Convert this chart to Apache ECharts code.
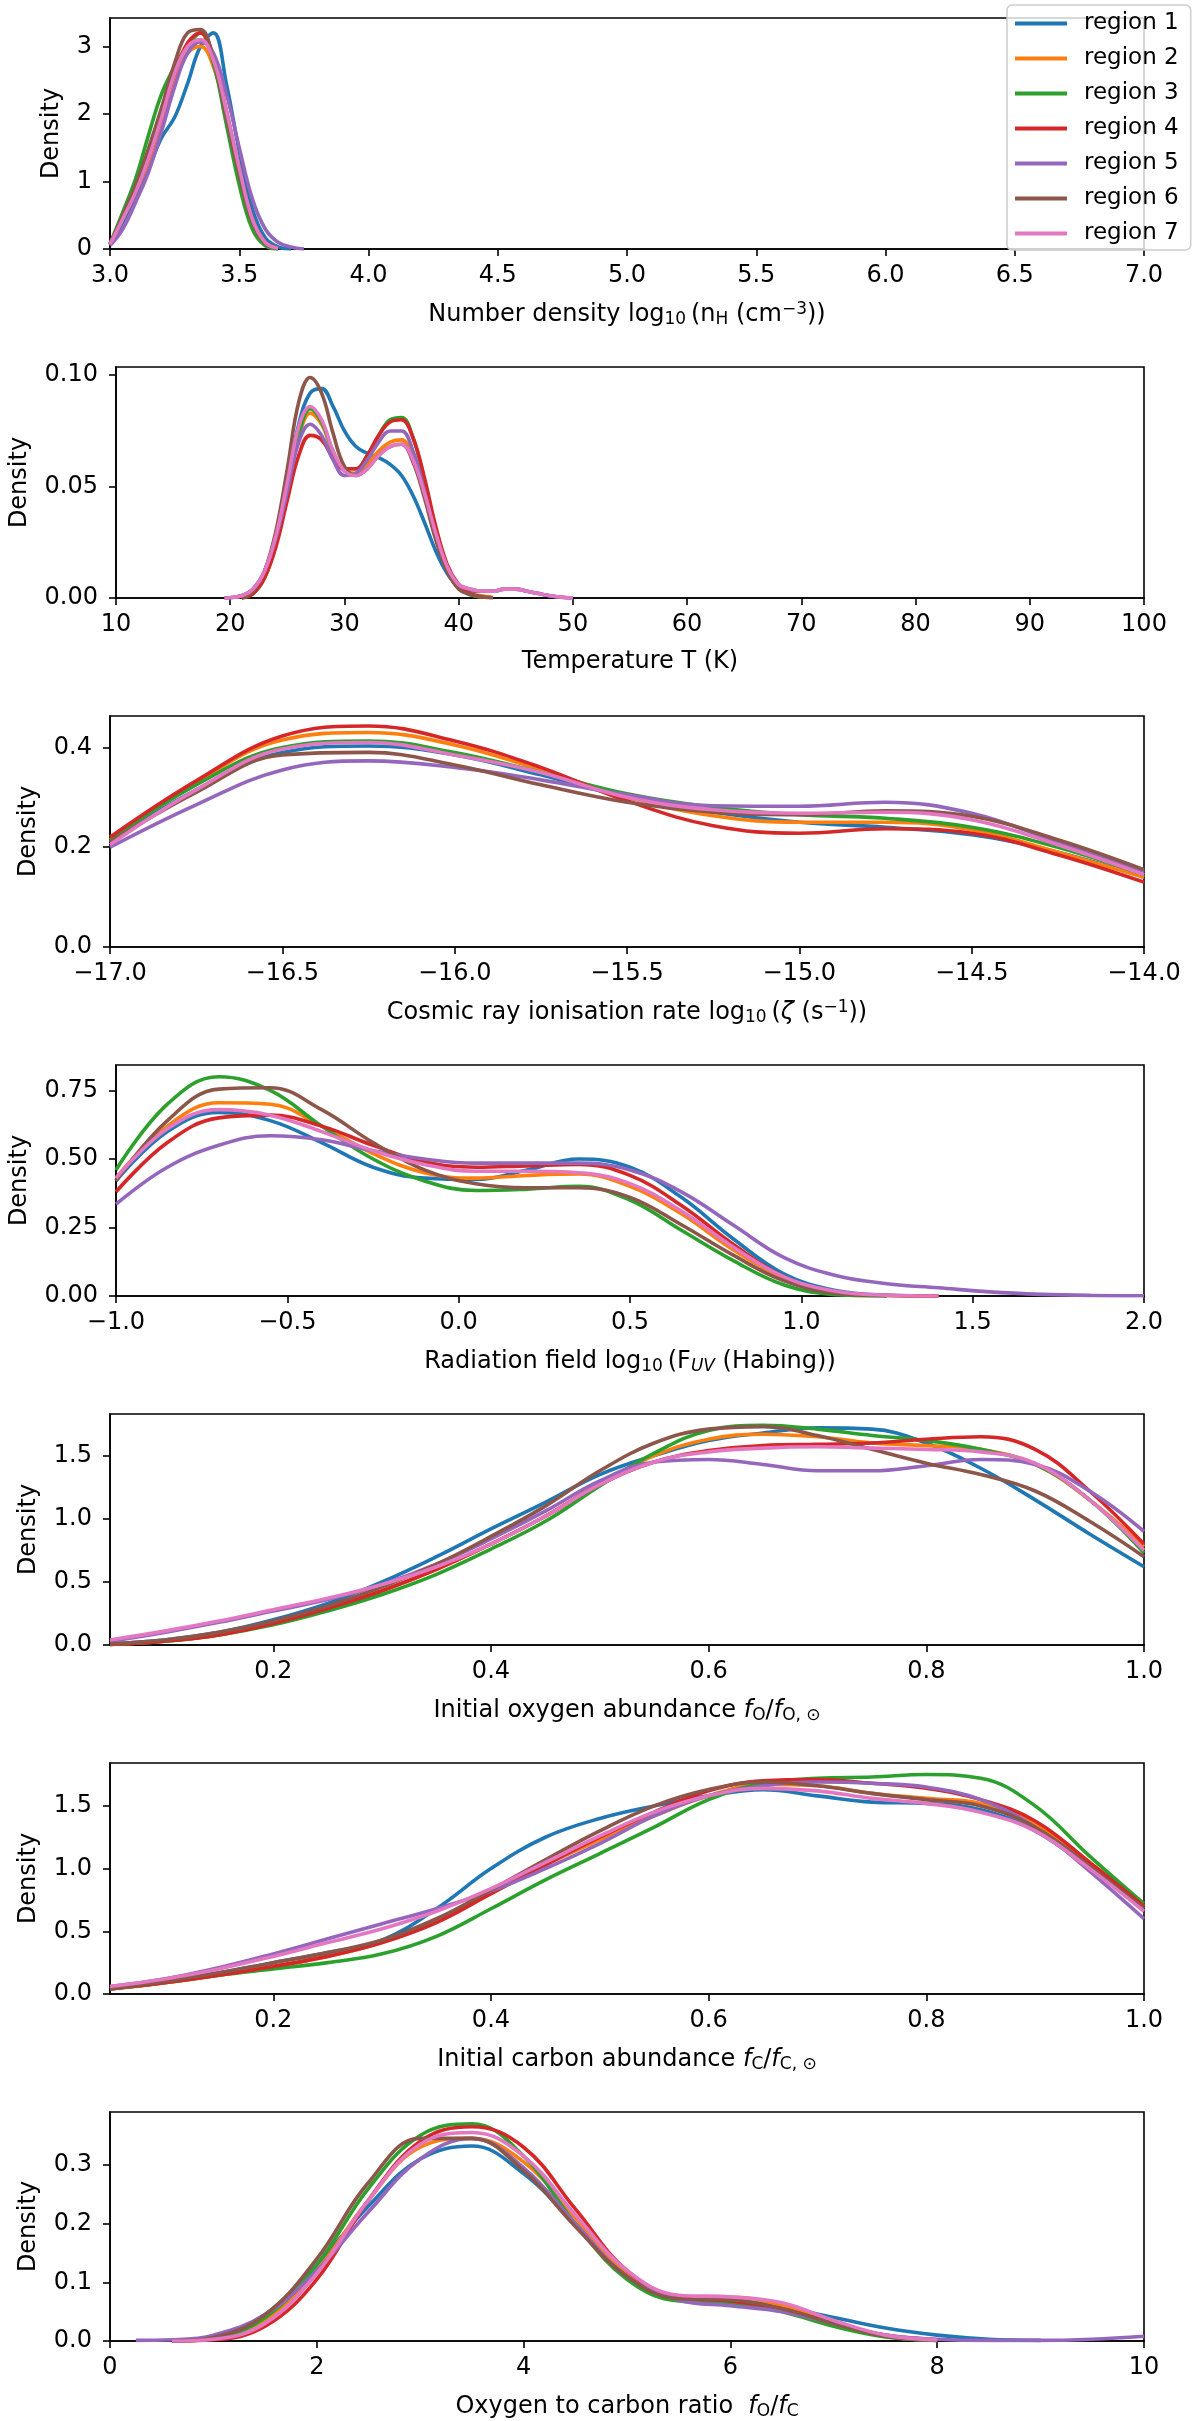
<!DOCTYPE html>
<html><head><meta charset="utf-8">
<script src="https://cdn.jsdelivr.net/npm/echarts@6/dist/echarts.min.js"></script>
<style>html,body{margin:0;padding:0;background:#fff}#c{width:1200px;height:2421px}</style>
</head><body><div id="c"></div>
<script>
const NAMES = ['region 1','region 2','region 3','region 4','region 5','region 6','region 7'];
const COLORS = ['#1f77b4','#ff7f0e','#2ca02c','#d62728','#9467bd','#8c564b','#e377c2'];

// Panel 1: number density
const nH_x = [3.0,3.05,3.1,3.15,3.2,3.25,3.3,3.35,3.4,3.45,3.5,3.55,3.6,3.65,3.7,3.75];
const nH_y = [
 [0.06,0.4,0.8,1.2,1.65,1.95,2.45,3.0,3.2,2.45,1.45,0.6,0.17,0.03,0,null],
 [0.07,0.45,0.85,1.3,1.9,2.5,2.9,3.0,2.7,2.0,1.15,0.45,0.1,0.01,null,null],
 [0.08,0.55,1.05,1.7,2.3,2.7,3.0,3.2,2.75,1.85,0.95,0.3,0.05,0,null,null],
 [0.07,0.45,0.85,1.35,1.95,2.6,3.05,3.2,2.85,2.05,1.2,0.45,0.1,0.01,null,null],
 [0.05,0.3,0.7,1.15,1.75,2.4,2.9,3.07,2.9,2.3,1.5,0.75,0.3,0.1,0.03,0],
 [0.07,0.5,0.95,1.5,2.1,2.75,3.2,3.25,2.8,1.95,1.1,0.4,0.08,0.01,null,null],
 [0.07,0.45,0.85,1.35,1.95,2.6,3.0,3.1,2.8,2.05,1.2,0.45,0.1,0.01,null,null]
];
const nH_xticks = [3.0,3.5,4.0,4.5,5.0,5.5,6.0,6.5,7.0];
const nH_xlabels = ['3.0','3.5','4.0','4.5','5.0','5.5','6.0','6.5','7.0'];
const nH_yticks = [0,1,2,3];
const nH_ylabels = ['0','1','2','3'];

// Panel 2: temperature
const T_x = [19.5,21,22,23,24,25,26,27,28,29,30,31,32,33,34,35,36,37,38,39,40,41,42,43,44,45,46,47,48,49,50];
const T_y = [
 [0,0.001,0.004,0.012,0.028,0.052,0.078,0.092,0.094,0.086,0.075,0.068,0.065,0.063,0.060,0.055,0.046,0.034,0.021,0.011,0.005,0.003,0.003,0.003,0.004,0.004,0.003,0.002,0.001,0.0003,0],
 [null,0.001,0.003,0.010,0.025,0.048,0.072,0.083,0.078,0.065,0.057,0.056,0.060,0.066,0.070,0.071,0.063,0.047,0.028,0.013,0.005,0.002,0.001,0.0003,null,null,null,null,null,null,null],
 [null,0,0.002,0.009,0.024,0.048,0.073,0.085,0.079,0.066,0.058,0.058,0.064,0.073,0.080,0.081,0.072,0.053,0.031,0.014,0.005,0.0015,0.0003,null,null,null,null,null,null,null,null],
 [null,0,0.002,0.009,0.023,0.044,0.064,0.073,0.071,0.063,0.058,0.058,0.064,0.073,0.079,0.080,0.072,0.054,0.032,0.015,0.006,0.002,0.0005,null,null,null,null,null,null,null,null],
 [0,0.001,0.004,0.012,0.027,0.048,0.070,0.078,0.073,0.062,0.055,0.056,0.062,0.070,0.075,0.075,0.066,0.048,0.028,0.013,0.006,0.004,0.003,0.003,0.004,0.004,0.003,0.002,0.001,0.0003,0],
 [null,0,0.003,0.012,0.030,0.058,0.088,0.099,0.092,0.074,0.059,0.055,0.058,0.064,0.068,0.069,0.061,0.045,0.026,0.012,0.004,0.0015,0.0005,0,null,null,null,null,null,null,null],
 [0,0.001,0.004,0.012,0.028,0.052,0.077,0.086,0.080,0.066,0.057,0.055,0.058,0.064,0.068,0.069,0.062,0.047,0.029,0.014,0.006,0.004,0.003,0.003,0.004,0.004,0.003,0.002,0.001,0.0004,0]
];
const T_xticks = [10,20,30,40,50,60,70,80,90,100];
const T_xlabels = ['10','20','30','40','50','60','70','80','90','100'];
const T_yticks = [0,0.05,0.10];
const T_ylabels = ['0.00','0.05','0.10'];

// Panel 3: cosmic ray ionisation rate
const CR_x = [-17,-16.75,-16.5,-16.25,-16,-15.75,-15.5,-15.25,-15,-14.75,-14.5,-14.25,-14];
const CR_y = [
 [0.21,0.315,0.39,0.403,0.385,0.345,0.30,0.27,0.25,0.24,0.225,0.19,0.14],
 [0.215,0.33,0.415,0.43,0.405,0.355,0.30,0.263,0.25,0.25,0.235,0.19,0.14],
 [0.215,0.325,0.40,0.413,0.39,0.35,0.307,0.28,0.265,0.258,0.24,0.20,0.145],
 [0.22,0.333,0.423,0.443,0.413,0.36,0.293,0.243,0.228,0.237,0.228,0.185,0.13],
 [0.20,0.285,0.355,0.373,0.36,0.335,0.305,0.283,0.282,0.29,0.268,0.21,0.15],
 [0.21,0.31,0.385,0.39,0.365,0.325,0.29,0.27,0.265,0.273,0.262,0.215,0.155],
 [0.205,0.315,0.397,0.41,0.385,0.35,0.30,0.275,0.268,0.27,0.255,0.205,0.145]
];
const CR_xticks = [-17,-16.5,-16,-15.5,-15,-14.5,-14];
const CR_xlabels = ['\u221217.0','\u221216.5','\u221216.0','\u221215.5','\u221215.0','\u221214.5','\u221214.0'];
const CR_yticks = [0,0.2,0.4];
const CR_ylabels = ['0.0','0.2','0.4'];

// Panel 4: radiation field
const UV_x = [-1,-0.85,-0.7,-0.55,-0.4,-0.25,-0.1,0.05,0.2,0.35,0.5,0.65,0.8,0.95,1.1,1.25,1.4,1.55,1.7,1.85,2.0];
const UV_y = [
 [0.42,0.60,0.67,0.64,0.56,0.47,0.43,0.425,0.46,0.50,0.47,0.36,0.21,0.08,0.02,0.003,0,null,null,null,null],
 [0.43,0.62,0.705,0.70,0.62,0.52,0.45,0.43,0.44,0.445,0.40,0.30,0.17,0.065,0.015,0.002,0,null,null,null,null],
 [0.46,0.70,0.80,0.75,0.62,0.50,0.42,0.385,0.39,0.40,0.35,0.24,0.13,0.04,0.005,0,null,null,null,null,null],
 [0.38,0.56,0.65,0.66,0.62,0.55,0.49,0.47,0.475,0.48,0.44,0.33,0.19,0.07,0.015,0.002,0,null,null,null,null],
 [0.335,0.47,0.55,0.585,0.57,0.53,0.50,0.485,0.485,0.485,0.46,0.38,0.26,0.14,0.075,0.045,0.03,0.015,0.006,0.002,0.001],
 [0.42,0.64,0.755,0.76,0.68,0.56,0.46,0.41,0.395,0.395,0.36,0.26,0.15,0.055,0.01,0.001,null,null,null,null,null],
 [0.43,0.61,0.68,0.66,0.60,0.53,0.48,0.455,0.455,0.45,0.41,0.31,0.18,0.07,0.017,0.003,0,null,null,null,null]
];
const UV_xticks = [-1,-0.5,0,0.5,1,1.5,2];
const UV_xlabels = ['\u22121.0','\u22120.5','0.0','0.5','1.0','1.5','2.0'];
const UV_yticks = [0,0.25,0.5,0.75];
const UV_ylabels = ['0.00','0.25','0.50','0.75'];

// Panel 5: initial oxygen abundance
const fO_x = [0.05,0.1,0.15,0.2,0.25,0.3,0.35,0.4,0.45,0.5,0.55,0.6,0.65,0.7,0.75,0.8,0.85,0.9,0.95,1.0];
const fO_y = [
 [0.01,0.04,0.10,0.20,0.33,0.50,0.70,0.92,1.13,1.35,1.50,1.62,1.68,1.72,1.71,1.60,1.40,1.15,0.88,0.62],
 [0.005,0.03,0.08,0.17,0.29,0.43,0.60,0.80,1.02,1.28,1.50,1.63,1.67,1.65,1.60,1.58,1.55,1.43,1.15,0.78],
 [0.005,0.03,0.08,0.16,0.27,0.40,0.56,0.76,0.98,1.26,1.52,1.70,1.74,1.71,1.66,1.62,1.55,1.43,1.15,0.73],
 [0.005,0.03,0.08,0.17,0.29,0.43,0.60,0.80,1.02,1.27,1.45,1.54,1.58,1.59,1.60,1.63,1.65,1.55,1.22,0.80],
 [0.03,0.10,0.18,0.27,0.36,0.48,0.64,0.84,1.06,1.30,1.45,1.47,1.43,1.38,1.38,1.42,1.47,1.43,1.22,0.90],
 [0.01,0.04,0.10,0.19,0.31,0.46,0.64,0.86,1.10,1.38,1.60,1.71,1.73,1.66,1.55,1.44,1.35,1.22,0.98,0.70],
 [0.04,0.11,0.19,0.28,0.37,0.48,0.62,0.80,1.02,1.27,1.45,1.53,1.56,1.57,1.56,1.55,1.53,1.44,1.15,0.75]
];
const fO_xticks = [0.2,0.4,0.6,0.8,1.0];
const fO_xlabels = ['0.2','0.4','0.6','0.8','1.0'];
const fO_yticks = [0,0.5,1.0,1.5];
const fO_ylabels = ['0.0','0.5','1.0','1.5'];

// Panel 6: initial carbon abundance
const fC_x = [0.05,0.1,0.15,0.2,0.25,0.3,0.35,0.4,0.45,0.5,0.55,0.6,0.65,0.7,0.75,0.8,0.85,0.9,0.95,1.0];
const fC_y = [
 [0.05,0.10,0.17,0.25,0.33,0.43,0.68,1.00,1.25,1.40,1.50,1.58,1.63,1.58,1.53,1.52,1.47,1.30,1.00,0.68],
 [0.04,0.09,0.15,0.22,0.30,0.41,0.58,0.80,1.03,1.23,1.42,1.58,1.67,1.66,1.60,1.56,1.52,1.35,1.05,0.70],
 [0.04,0.09,0.15,0.20,0.25,0.32,0.46,0.68,0.91,1.12,1.33,1.55,1.68,1.72,1.73,1.75,1.72,1.50,1.10,0.72],
 [0.04,0.09,0.15,0.22,0.30,0.41,0.57,0.80,1.03,1.25,1.45,1.62,1.70,1.71,1.68,1.64,1.55,1.38,1.05,0.70],
 [0.06,0.12,0.21,0.32,0.44,0.56,0.68,0.82,1.00,1.20,1.42,1.58,1.66,1.69,1.68,1.65,1.55,1.33,0.98,0.60],
 [0.04,0.10,0.17,0.25,0.33,0.43,0.60,0.83,1.07,1.30,1.50,1.63,1.69,1.66,1.60,1.55,1.50,1.33,1.02,0.68],
 [0.06,0.12,0.20,0.30,0.41,0.52,0.66,0.84,1.05,1.26,1.45,1.58,1.64,1.62,1.56,1.52,1.45,1.30,1.00,0.66]
];
const fC_xticks = [0.2,0.4,0.6,0.8,1.0];
const fC_xlabels = ['0.2','0.4','0.6','0.8','1.0'];
const fC_yticks = [0,0.5,1.0,1.5];
const fC_ylabels = ['0.0','0.5','1.0','1.5'];

// Panel 7: oxygen to carbon ratio
const OC_x = [0.25,0.6,1,1.5,2,2.5,3,3.5,4,4.5,5,5.5,6,6.5,7,7.5,8,8.5,9,9.5,10];
const OC_y = [
 [null,0,0.008,0.045,0.13,0.23,0.31,0.332,0.285,0.20,0.115,0.075,0.07,0.058,0.04,0.022,0.01,0.003,0.001,null,null],
 [null,0,0.004,0.035,0.12,0.24,0.33,0.345,0.305,0.21,0.115,0.075,0.075,0.06,0.03,0.008,0.001,null,null,null,null],
 [null,0,0.005,0.04,0.13,0.26,0.35,0.37,0.315,0.20,0.105,0.068,0.065,0.05,0.025,0.007,0.001,null,null,null,null],
 [null,0,0.002,0.025,0.105,0.24,0.34,0.365,0.33,0.225,0.12,0.075,0.068,0.055,0.03,0.01,0.002,null,null,null,null],
 [0.001,0.002,0.01,0.045,0.12,0.22,0.31,0.345,0.295,0.20,0.11,0.07,0.06,0.05,0.03,0.01,0.003,0.001,0.001,0.003,0.008],
 [null,0,0.006,0.045,0.14,0.27,0.345,0.345,0.29,0.195,0.11,0.072,0.07,0.055,0.03,0.008,0.001,null,null,null,null],
 [null,0,0.003,0.03,0.115,0.24,0.335,0.355,0.315,0.215,0.12,0.078,0.075,0.065,0.035,0.01,0.002,null,null,null,null]
];
const OC_xticks = [0,2,4,6,8,10];
const OC_xlabels = ['0','2','4','6','8','10'];
const OC_yticks = [0,0.1,0.2,0.3];
const OC_ylabels = ['0.0','0.1','0.2','0.3'];

const FONT = 'DejaVu Sans';
const FS = 24;
const rich = {
  sub: {fontSize: 17, fontFamily: FONT, color: '#000', padding: [10,0,0,0]},
  subi: {fontSize: 17, fontFamily: FONT, color: '#000', fontStyle: 'italic', padding: [10,0,0,0]},
  sup: {fontSize: 17, fontFamily: FONT, color: '#000', padding: [0,0,11,0]},
  it: {fontSize: FS, fontFamily: FONT, color: '#000', fontStyle: 'italic'}
};

const panels = [
  {x: nH_x, y: nH_y, xmin: 3, xmax: 7, ymax: 3.42, xt: nH_xticks, xl: nH_xlabels, yt: nH_yticks, yl: nH_ylabels,
   name: 'Number density log{sub|10}\u2009(n{sub|H} (cm{sup|\u22123}))', ygap: 46},
  {x: T_x, y: T_y, xmin: 10, xmax: 100, ymax: 0.1037, xt: T_xticks, xl: T_xlabels, yt: T_yticks, yl: T_ylabels,
   name: 'Temperature T (K)', ygap: 84},
  {x: CR_x, y: CR_y, xmin: -17, xmax: -14, ymax: 0.463, xt: CR_xticks, xl: CR_xlabels, yt: CR_yticks, yl: CR_ylabels,
   name: 'Cosmic ray ionisation rate log{sub|10}\u2009({it|\u03B6} (s{sup|\u22121}))', ygap: 69},
  {x: UV_x, y: UV_y, xmin: -1, xmax: 2, ymax: 0.843, xt: UV_xticks, xl: UV_xlabels, yt: UV_yticks, yl: UV_ylabels,
   name: 'Radiation field log{sub|10}\u2009(F{subi|UV} (Habing))', ygap: 84},
  {x: fO_x, y: fO_y, xmin: 0.05, xmax: 1.0, ymax: 1.83, xt: fO_xticks, xl: fO_xlabels, yt: fO_yticks, yl: fO_ylabels,
   name: 'Initial oxygen abundance {it|f}{sub|O}/{it|f}{sub|O, \u2299}', ygap: 69},
  {x: fC_x, y: fC_y, xmin: 0.05, xmax: 1.0, ymax: 1.842, xt: fC_xticks, xl: fC_xlabels, yt: fC_yticks, yl: fC_ylabels,
   name: 'Initial carbon abundance {it|f}{sub|C}/{it|f}{sub|C, \u2299}', ygap: 69},
  {x: OC_x, y: OC_y, xmin: 0, xmax: 10, ymax: 0.39, xt: OC_xticks, xl: OC_xlabels, yt: OC_yticks, yl: OC_ylabels,
   name: 'Oxygen to carbon ratio  {it|f}{sub|O}/{it|f}{sub|C}', ygap: 69}
];

function lookup(ticks, labels) {
  return function (v) {
    let best = 0, bd = Infinity;
    for (let i = 0; i < ticks.length; i++) { const d = Math.abs(ticks[i] - v); if (d < bd) { bd = d; best = i; } }
    return labels[best];
  };
}

const grids = [], xAxes = [], yAxes = [], series = [];
panels.forEach((p, i) => {
  grids.push({left: 110, width: 1034, top: 18 + 349 * i, height: 231, show: true,
              borderColor: '#000', borderWidth: 1.6, backgroundColor: 'transparent', containLabel: false});
  xAxes.push({
    gridIndex: i, type: 'value', min: p.xmin, max: p.xmax,
    axisLine: {show: true, onZero: false, lineStyle: {color: '#000', width: 1.6}},
    axisTick: {show: true, length: 7, lineStyle: {color: '#000', width: 1.6}, customValues: p.xt},
    axisLabel: {customValues: p.xt, formatter: lookup(p.xt, p.xl), margin: 15, fontSize: FS, color: '#000', fontFamily: FONT},
    splitLine: {show: false},
    name: p.name, nameLocation: 'middle', nameGap: 52,
    nameTextStyle: {fontSize: FS, color: '#000', fontFamily: FONT, rich: rich}
  });
  yAxes.push({
    gridIndex: i, type: 'value', min: 0, max: p.ymax,
    axisLine: {show: true, onZero: false, lineStyle: {color: '#000', width: 1.6}},
    axisTick: {show: true, length: 7, lineStyle: {color: '#000', width: 1.6}, customValues: p.yt},
    axisLabel: {customValues: p.yt, formatter: lookup(p.yt, p.yl), margin: 18, fontSize: FS, color: '#000', fontFamily: FONT},
    splitLine: {show: false},
    name: 'Density', nameLocation: 'middle', nameGap: p.ygap, nameRotate: 90,
    nameTextStyle: {fontSize: FS, color: '#000', fontFamily: FONT}
  });
  for (let s = 0; s < 7; s++) {
    series.push({
      name: NAMES[s], type: 'line', xAxisIndex: i, yAxisIndex: i,
      data: p.x.map((xv, k) => [xv, p.y[s][k]]),
      smooth: 0.4, showSymbol: false, symbol: 'none', connectNulls: false,
      lineStyle: {color: COLORS[s], width: 3.6}, itemStyle: {color: COLORS[s]},
      clip: true, z: 2 + s
    });
  }
});

const chart = echarts.init(document.getElementById('c'), null, {renderer: 'canvas'});
chart.setOption({
  animation: false,
  backgroundColor: '#fff',
  grid: grids, xAxis: xAxes, yAxis: yAxes, series: series,
  legend: {
    show: true, orient: 'vertical', left: 1007, top: 5, padding: [7, 12, 5, 8],
    itemWidth: 52, itemHeight: 4, icon: 'rect', itemGap: 12,
    backgroundColor: 'rgba(255,255,255,0.8)', borderColor: '#cccccc', borderWidth: 1.5, borderRadius: 5,
    textStyle: {fontSize: 23, color: '#000', fontFamily: FONT, padding: [0, 0, 0, 12]},
    data: NAMES, z: 20
  }
});
</script></body></html>
